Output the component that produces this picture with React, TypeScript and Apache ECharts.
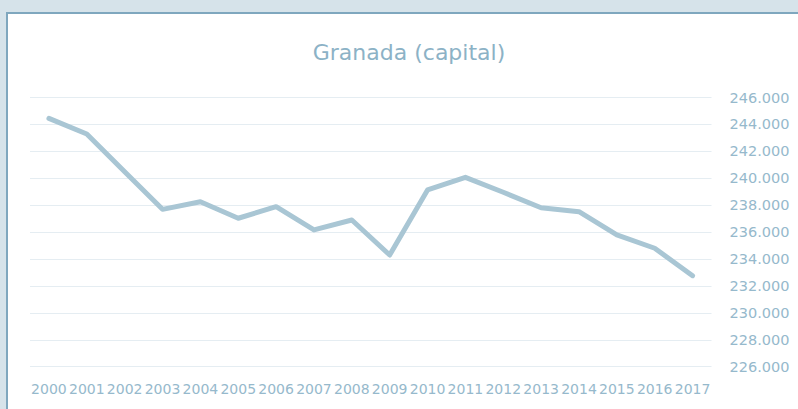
import React, { useEffect, useRef } from "react";
import * as echarts from "echarts";

const years = ["2000","2001","2002","2003","2004","2005","2006","2007","2008","2009","2010","2011","2012","2013","2014","2015","2016","2017"];
const population = [244450, 243290, 240490, 237690, 238260, 237030, 237890, 236160, 236900, 234300, 239130, 240070, 238960, 237810, 237520, 235790, 234800, 232760];
const titleText = "Granada (capital)";
const yMin = 226000;
const yMax = 246000;
const yStep = 2000;

function fmt(v: number): string {
  const s = Math.round(v).toString();
  return s.replace(/\B(?=(\d{3})+(?!\d))/g, ".");
}

export default function App() {
  const ref = useRef<HTMLDivElement>(null);
  useEffect(() => {
    document.body.style.margin = "0";
    const chart = echarts.init(ref.current!, undefined, { renderer: "svg" });
    chart.setOption({
      animation: false,
      title: {
        text: titleText,
        left: 404,
        textAlign: "center",
        top: 36,
        textStyle: { fontFamily: "DejaVu Sans", fontSize: 22, fontWeight: "normal", color: "#8cb2c6" },
      },
      grid: { left: 30, right: 86.5, top: 97.5, bottom: 42.3, containLabel: false },
      xAxis: {
        type: "category",
        data: years,
        boundaryGap: true,
        axisLine: { show: false },
        axisTick: { show: false },
        axisLabel: { interval: 0, margin: 15, fontFamily: "DejaVu Sans", fontSize: 14, color: "#96b9cc" },
      },
      yAxis: {
        type: "value",
        position: "right",
        min: yMin,
        max: yMax,
        interval: yStep,
        axisLine: { show: false },
        axisTick: { show: false },
        splitLine: { lineStyle: { color: "#e5edf2", width: 1 } },
        axisLabel: { margin: 18, fontFamily: "DejaVu Sans", fontSize: 14.5, color: "#96b9cc", formatter: (v: number) => fmt(v) },
      },
      series: [
        {
          type: "line",
          data: population,
          symbol: "none",
          lineStyle: { color: "#a9c6d4", width: 5, cap: "round", join: "round" },
        },
      ],
    });
    return () => chart.dispose();
  }, []);
  return (
    <div style={{ position: "fixed", left: 0, top: 0, width: 798, height: 409, background: "#d6e3ea", overflow: "hidden" }}>
      <div style={{ position: "absolute", left: 6, top: 12, width: 900, height: 500, border: "2px solid #7fa7be", background: "#ffffff" }} />
      <div ref={ref} style={{ position: "absolute", left: 0, top: 0, width: 798, height: 409 }} />
    </div>
  );
}
